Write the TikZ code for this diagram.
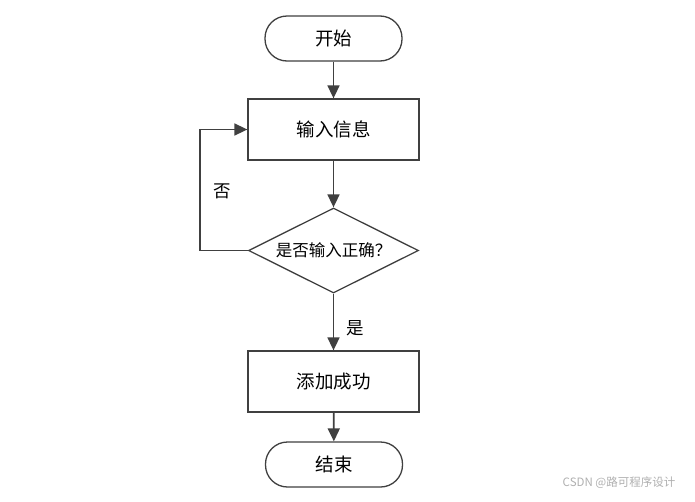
\documentclass[tikz,border=0pt]{standalone}
\usepackage{fontspec}
\newfontfamily\cjk{Noto Sans CJK SC}
\usetikzlibrary{shapes.geometric,arrows.meta}
\definecolor{linec}{HTML}{404040}
\definecolor{wmark}{HTML}{B0B0B0}
\begin{document}
\begin{tikzpicture}[x=1pt,y=-1pt,
  every node/.style={font=\cjk\fontsize{18.5}{21}\selectfont, text=black},
  conn/.style={draw=linec, line width=1.7pt, -{Triangle[length=13pt,width=12pt]}},
  term/.style={draw=linec, line width=1.3pt, rounded corners=22pt, minimum width=137pt, minimum height=45pt, inner sep=0pt},
  proc/.style={draw=linec, line width=1.3pt, minimum width=171pt, minimum height=61pt, inner sep=0pt},
  dec/.style={diamond, draw=linec, line width=1.3pt, shape aspect=2, minimum width=170pt, minimum height=85pt, inner sep=0pt, font=\cjk\fontsize{16.5}{19}\selectfont},
  lab/.style={inner sep=0pt, font=\cjk\fontsize{17.5}{20}\selectfont}]
\fill[white] (0,0) rectangle (695,501);
\useasboundingbox (0,0) rectangle (695,501);
\node[term] (start) at (333.5,38.5) {开始};
\node[proc] (input) at (333.5,129.5) {输入信息};
\node[dec] (check) at (333.5,250.5) {是否输入正确？};
\node[proc] (add) at (333.5,381.5) {添加成功};
\node[term] (stop) at (334,464.5) {结束};
\coordinate (loopc) at (200,250.5);
\draw[conn] (start) -- (input);
\draw[conn] (input) -- (check);
\draw[conn] (check) -- (add);
\draw[conn] (add) -- (stop);
\draw[conn] (check.west) -- (loopc) |- (input.west);
\node[lab] (no) at (222,191) {否};
\node[lab] (yes) at (355,328) {是};
\node[lab, font=\cjk\fontsize{11.5}{13}\selectfont, text=wmark] (wm) at (619,483) {CSDN @路可程序设计};
\end{tikzpicture}
\end{document}
